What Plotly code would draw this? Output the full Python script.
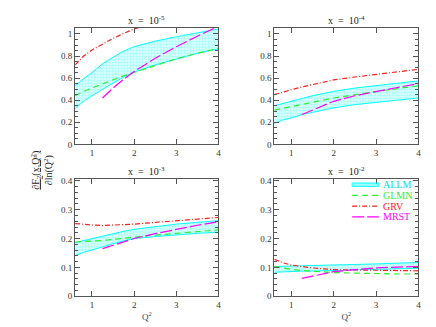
import plotly.graph_objects as go
from plotly.subplots import make_subplots

# Q^2 grid shared by the curves
q2 = [0.6, 0.8, 1.0, 1.25, 1.5, 1.75, 2.0, 2.5, 3.0, 3.5, 4.0]
q2_mrst = [1.25, 1.5, 1.75, 2.0, 2.5, 3.0, 3.5, 4.0]

titles = ["x  =  10<sup>-5</sup>", "x  =  10<sup>-4</sup>",
          "x  =  10<sup>-3</sup>", "x  =  10<sup>-2</sup>"]

legend_names = ["ALLM", "GLMN", "GRV", "MRST"]

# x = 1e-5
allm_lo_5 = [0.325, 0.39, 0.44, 0.50, 0.555, 0.61, 0.655, 0.72, 0.775, 0.825, 0.865]
allm_hi_5 = [0.53, 0.595, 0.65, 0.73, 0.79, 0.845, 0.885, 0.935, 0.975, 1.01, 1.045]
glmn_5 = [0.44, 0.48, 0.51, 0.55, 0.585, 0.62, 0.65, 0.715, 0.775, 0.825, 0.87]
grv_5 = [0.72, 0.80, 0.855, 0.91, 0.96, 1.005, 1.045, 1.10, 1.15, 1.20, 1.24]
mrst_5 = [0.42, 0.51, 0.59, 0.66, 0.78, 0.885, 0.98, 1.07]

# x = 1e-4
allm_lo_4 = [0.19, 0.22, 0.24, 0.27, 0.29, 0.31, 0.33, 0.36, 0.38, 0.40, 0.42]
allm_hi_4 = [0.35, 0.37, 0.39, 0.42, 0.44, 0.46, 0.48, 0.51, 0.53, 0.555, 0.575]
glmn_4 = [0.31, 0.325, 0.34, 0.36, 0.38, 0.40, 0.42, 0.45, 0.48, 0.505, 0.53]
grv_4 = [0.45, 0.475, 0.495, 0.52, 0.54, 0.565, 0.584, 0.61, 0.634, 0.66, 0.68]
mrst_4 = [0.27, 0.31, 0.35, 0.39, 0.44, 0.48, 0.515, 0.55]

# x = 1e-3
allm_lo_3 = [0.14, 0.152, 0.16, 0.172, 0.182, 0.192, 0.20, 0.207, 0.213, 0.218, 0.222]
allm_hi_3 = [0.186, 0.193, 0.20, 0.209, 0.217, 0.225, 0.232, 0.242, 0.25, 0.256, 0.262]
glmn_3 = [0.188, 0.189, 0.19, 0.193, 0.197, 0.201, 0.205, 0.212, 0.218, 0.224, 0.23]
grv_3 = [0.252, 0.249, 0.247, 0.245, 0.246, 0.248, 0.25, 0.256, 0.262, 0.268, 0.273]
mrst_3 = [0.165, 0.177, 0.189, 0.20, 0.217, 0.232, 0.246, 0.258]

# x = 1e-2
allm_lo_2 = [0.083, 0.085, 0.086, 0.087, 0.087, 0.088, 0.088, 0.091, 0.093, 0.095, 0.097]
allm_hi_2 = [0.103, 0.104, 0.105, 0.106, 0.106, 0.107, 0.108, 0.110, 0.112, 0.115, 0.117]
glmn_2 = [0.104, 0.098, 0.093, 0.089, 0.086, 0.084, 0.082, 0.080, 0.078, 0.077, 0.077]
grv_2 = [0.128, 0.116, 0.108, 0.102, 0.098, 0.095, 0.092, 0.091, 0.090, 0.089, 0.088]
mrst_2 = [0.062, 0.070, 0.078, 0.085, 0.092, 0.098, 0.101, 0.103]

panels = [
    (allm_lo_5, allm_hi_5, glmn_5, grv_5, mrst_5),
    (allm_lo_4, allm_hi_4, glmn_4, grv_4, mrst_4),
    (allm_lo_3, allm_hi_3, glmn_3, grv_3, mrst_3),
    (allm_lo_2, allm_hi_2, glmn_2, grv_2, mrst_2),
]

CYAN = "#00ffff"
GREEN = "#33ee33"
RED = "#ff2020"
MAGENTA = "#ff00ff"
FONT = "Liberation Serif"
AXC = "#555555"

fig = make_subplots(rows=2, cols=2)

for i, (lo, hi, glmn, grv, mrst) in enumerate(panels):
    r, c = i // 2 + 1, i % 2 + 1
    fig.add_trace(go.Scatter(x=q2, y=lo, mode="lines", line=dict(color=CYAN, width=1),
                             showlegend=False, hoverinfo="skip"), row=r, col=c)
    fig.add_trace(go.Scatter(x=q2, y=hi, mode="lines", line=dict(color=CYAN, width=1),
                             fill="tonexty", fillcolor="rgba(0,255,255,0.14)",
                             fillpattern=dict(shape="+", fgcolor=CYAN, size=3, solidity=0.2),
                             showlegend=False), row=r, col=c)
    fig.add_trace(go.Scatter(x=q2, y=glmn, mode="lines",
                             line=dict(color=GREEN, width=1.2, dash="6px,4px"),
                             showlegend=False), row=r, col=c)
    fig.add_trace(go.Scatter(x=q2, y=grv, mode="lines",
                             line=dict(color=RED, width=1.2, dash="5px,2px,1px,2px"),
                             showlegend=False), row=r, col=c)
    fig.add_trace(go.Scatter(x=q2_mrst, y=mrst, mode="lines",
                             line=dict(color=MAGENTA, width=1.2, dash="12px,3px"),
                             showlegend=False), row=r, col=c)

# panel placement
xdom = [[0.155, 0.486], [0.615, 0.948]]
ydom = [[0.582, 0.947], [0.106, 0.472]]

axis_style = dict(showline=True, linecolor=AXC, linewidth=1, mirror="ticks",
                  ticks="inside", ticklen=5, tickcolor=AXC, showgrid=False,
                  zeroline=False, tickfont=dict(family=FONT, size=9, color="#333333"))

for i in range(4):
    r, c = i // 2 + 1, i % 2 + 1
    fig.update_xaxes(domain=xdom[c - 1], range=[0.6, 4.0], tickvals=[1, 2, 3, 4],
                     row=r, col=c, **axis_style)
    if r == 1:
        fig.update_yaxes(domain=ydom[0], range=[0, 1.055], tickvals=[0, 0.2, 0.4, 0.6, 0.8, 1],
                         ticktext=["0", "0.2", "0.4", "0.6", "0.8", "1"],
                         minor=dict(dtick=0.05, ticks="inside", ticklen=3, tickcolor=AXC),
                         row=r, col=c, **axis_style)
    else:
        fig.update_yaxes(domain=ydom[1], range=[0, 0.405], tickvals=[0, 0.1, 0.2, 0.3, 0.4],
                         ticktext=["0", "0.1", "0.2", "0.3", "0.4"],
                         minor=dict(dtick=0.02, ticks="inside", ticklen=3, tickcolor=AXC),
                         row=r, col=c, **axis_style)
        fig.update_xaxes(title=dict(text="Q<sup>2</sup>", font=dict(family=FONT, size=9),
                                    standoff=4), row=r, col=c)

# panel titles
axnames = ["", "2", "3", "4"]
for i, t in enumerate(titles):
    fig.add_annotation(text=t, xref="x%s domain" % axnames[i], yref="y%s domain" % axnames[i],
                       x=0.5, y=1.0, yanchor="bottom", showarrow=False,
                       font=dict(family=FONT, size=10, color="#222222"))

# y label
fig.add_annotation(text="<u>∂F<sub>2</sub>(x,Q<sup>2</sup>)</u><br>∂ln(Q<sup>2</sup>)",
                   xref="paper", yref="paper", x=0.042, y=0.5, textangle=-90,
                   showarrow=False, font=dict(family=FONT, size=10, color="#222222"))

# legend drawn inside the x = 1e-2 panel (axes-domain coordinates)
leg_colors = [CYAN, GREEN, RED, MAGENTA]
leg_dash = ["solid", "6px,4px", "5px,2px,1px,2px", "12px,3px"]
for k, name in enumerate(legend_names):
    yy = 0.955 - k * 0.092
    if k == 0:
        fig.add_shape(type="rect", xref="x4 domain", yref="y4 domain",
                      x0=0.54, x1=0.725, y0=yy - 0.014, y1=yy + 0.014,
                      line=dict(color=CYAN, width=1), fillcolor="rgba(0,255,255,0.35)")
    else:
        fig.add_shape(type="line", xref="x4 domain", yref="y4 domain",
                      x0=0.54, x1=0.725, y0=yy, y1=yy,
                      line=dict(color=leg_colors[k], width=1.2, dash=leg_dash[k]))
    fig.add_annotation(text=name, xref="x4 domain", yref="y4 domain",
                       x=0.74, y=yy, xanchor="left", yanchor="middle", showarrow=False,
                       font=dict(family=FONT, size=10, color=leg_colors[k] if k else "#00dddd"))

fig.update_layout(
    width=436, height=327,
    margin=dict(l=0, r=0, t=0, b=0),
    paper_bgcolor="white", plot_bgcolor="white",
    showlegend=False,
)

fig.write_html("out.html")
